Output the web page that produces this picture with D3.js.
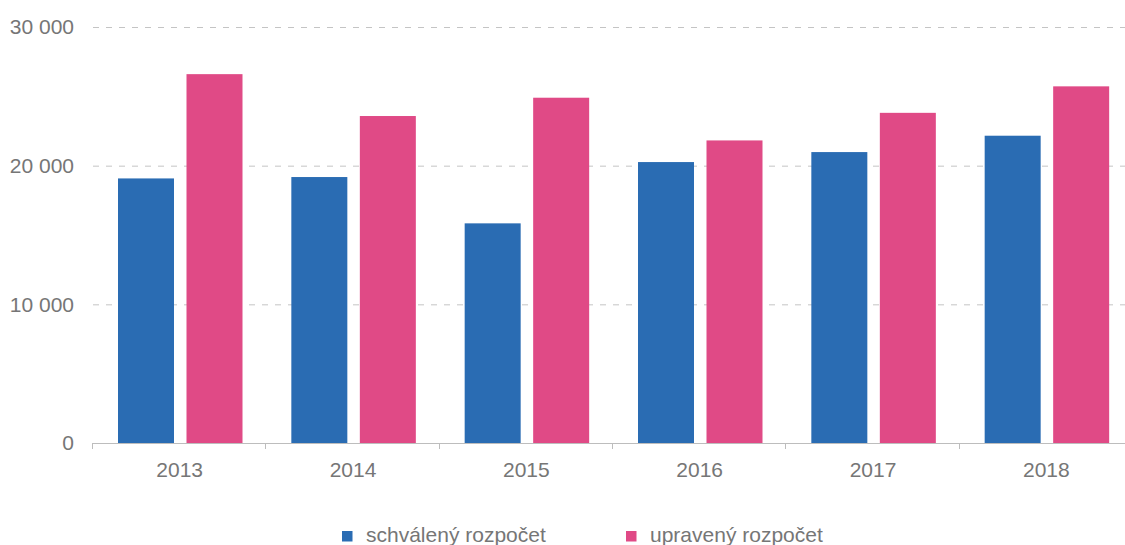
<!DOCTYPE html>
<html>
<head>
<meta charset="utf-8">
<script src="https://cdnjs.cloudflare.com/ajax/libs/d3/7.8.5/d3.min.js"></script>
<style>
  body { margin: 0; background: #fff; }
  svg { display: block; font-family: "Liberation Sans", Arial, sans-serif; }
</style>
</head>
<body>
<div id="chart"></div>
<script>
var years = ["2013", "2014", "2015", "2016", "2017", "2018"];
var schvaleny = [19080, 19180, 15840, 20260, 20980, 22160];
var upraveny = [26600, 23580, 24900, 21820, 23810, 25720];
var seriesNames = ["schválený rozpočet", "upravený rozpočet"];
var seriesColors = ["#2a6cb3", "#e04a86"];
var yTicks = [0, 10000, 20000, 30000];

var width = 1125, height = 545;
var margin = {left: 93, top: 27, bottom: 102};

var svg = d3.select("#chart").append("svg")
  .attr("width", width).attr("height", height);

// band range runs slightly past the right edge, as in the original
var x = d3.scaleBand().domain(years).range([margin.left, 1133]);
var y = d3.scaleLinear().domain([0, 30000])
  .range([height - margin.bottom, margin.top]);

var fmt = function(v) { return d3.format(",")(v).replace(/,/g, " "); };

// gridlines
svg.append("g").selectAll("line")
  .data(yTicks.filter(function(d) { return d > 0; }))
  .enter().append("line")
    .attr("x1", margin.left).attr("x2", width)
    .attr("y1", function(d) { return y(d) + 0.5; })
    .attr("y2", function(d) { return y(d) + 0.5; })
    .attr("stroke", "#c4c4c4").attr("stroke-width", 1)
    .attr("stroke-dasharray", "6,7");

// y labels
svg.append("g").selectAll("text")
  .data(yTicks).enter().append("text")
    .attr("x", 74).attr("y", function(d) { return y(d); })
    .attr("dy", "0.35em").attr("text-anchor", "end")
    .attr("fill", "#767676").style("font-size", "21px")
    .text(fmt);

// bars
var groups = [schvaleny, upraveny];
var barW = 56, gap = 12.5, offset = 25;
groups.forEach(function(vals, s) {
  svg.append("g").selectAll("rect")
    .data(vals).enter().append("rect")
      .attr("x", function(d, i) { return x(years[i]) + offset + s * (barW + gap); })
      .attr("y", function(d) { return y(d); })
      .attr("width", barW)
      .attr("height", function(d) { return y(0) - y(d); })
      .attr("fill", seriesColors[s]);
});

// x axis
var xAxis = d3.axisBottom(x).tickSize(0).tickPadding(0);
var gx = svg.append("g")
  .attr("transform", "translate(0," + y(0) + ")")
  .call(xAxis);
gx.select(".domain").attr("stroke", "#bdbdbd").attr("d", "M" + margin.left + ",0.5H" + width);
gx.selectAll("text")
  .attr("y", 34).attr("dy", null)
  .attr("fill", "#767676").style("font-size", "21px")
  .style("font-family", "Liberation Sans, Arial, sans-serif");

// category boundary ticks
svg.append("g").selectAll("line")
  .data(years).enter().append("line")
    .attr("x1", function(d) { return Math.round(x(d)) - 0.5; })
    .attr("x2", function(d) { return Math.round(x(d)) - 0.5; })
    .attr("y1", y(0)).attr("y2", y(0) + 6)
    .attr("stroke", "#bdbdbd");

// legend
var legendX = [342, 626];
var lg = svg.append("g").selectAll("g")
  .data(seriesNames).enter().append("g")
    .attr("transform", function(d, i) { return "translate(" + legendX[i] + ",541.5)"; });
lg.append("rect")
  .attr("x", 0).attr("y", -10.5).attr("width", 10.5).attr("height", 10.5)
  .attr("fill", function(d, i) { return seriesColors[i]; });
lg.append("text")
  .attr("x", 24).attr("y", 0)
  .attr("fill", "#767676").style("font-size", "21px")
  .text(function(d) { return d; });
</script>
</body>
</html>
